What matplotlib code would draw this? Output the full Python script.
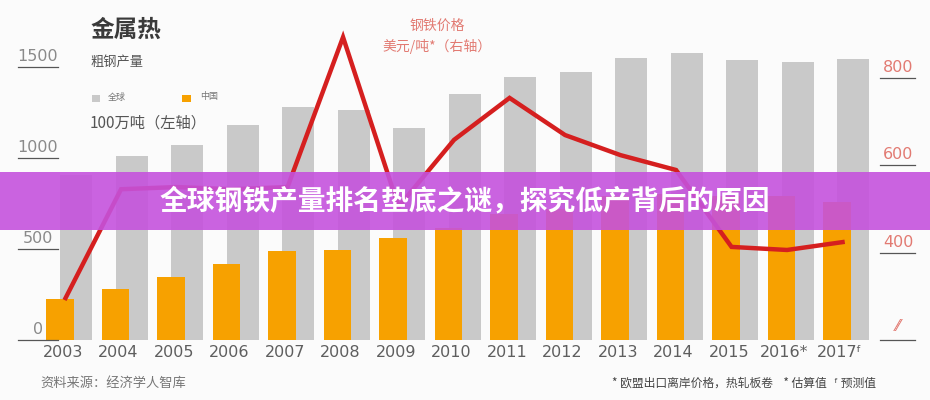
import numpy as np
import matplotlib
matplotlib.use("Agg")
import matplotlib.pyplot as plt
from matplotlib.patches import Rectangle

plt.rcParams["font.family"] = ["Noto Sans CJK SC", "DejaVu Sans"]

YEARS = ["2003", "2004", "2005", "2006", "2007", "2008", "2009", "2010",
         "2011", "2012", "2013", "2014", "2015", "2016*", "2017ᶠ"]
GLOBAL = [905, 1010, 1070, 1180, 1280, 1265, 1165, 1350, 1445, 1475, 1550, 1575, 1540, 1525, 1545]
CHINA = [225, 280, 345, 420, 490, 495, 560, 615, 690, 720, 790, 800, 790, 790, 760]
PRICE = [296, 545, 550, 545, 550, 893, 505, 658, 754, 669, 623, 589, 413, 406, 424]
LEFT_TICKS = [0, 500, 1000, 1500]
RIGHT_TICKS = [400, 600, 800]

W, H = 930, 400
GRAY = "#c9c9c9"
ORANGE = "#f7a100"
RED = "#d51f1f"
PINK = "#e27a72"


def fx(px):
    return px / W


def fy(py):
    return 1 - py / H


fig = plt.figure(figsize=(9.3, 4.0), dpi=100)
fig.patch.set_facecolor("#fbfbfb")
ax = fig.add_axes([0, 0, 1, 1])
ax.set_facecolor("none")
ax2 = ax.twinx()
ax2.set_facecolor("none")
for a in (ax, ax2):
    a.axis("off")

x = np.arange(len(YEARS))
ax.bar(x + 0.29, GLOBAL, width=0.58, color=GRAY, zorder=1)
ax.bar(x, CHINA, width=0.5, color=ORANGE, zorder=2)
ax.set_xlim(-60 / 55.5, -60 / 55.5 + W / 55.5)
ax.set_ylim(-60 / 0.182, 340 / 0.182)

ax2.plot(x + 0.1, PRICE, color=RED, lw=3.2, solid_joinstyle="miter", zorder=3)
ax2.set_ylim(200 - 60 / 0.437, 200 + 340 / 0.437)

# x labels
for xi, lab in zip(x, YEARS):
    ax.text(xi + 0.05, -67, lab, ha="center", va="center", fontsize=11.5,
            color="#5e5e5e", family=["DejaVu Sans"])

# left ticks with underline
for v in LEFT_TICKS:
    ax.text((38 - 60) / 55.5, v + 55, str(v), ha="center", va="center",
            fontsize=11.5, color="#8a8a8a", family=["DejaVu Sans"])
    ax.plot([(18 - 60) / 55.5, (58 - 60) / 55.5], [v, v], color="#555555", lw=0.9)

# right ticks
for v in RIGHT_TICKS:
    ax2.text((898 - 60) / 55.5, v + 24, str(v), ha="center", va="center",
             fontsize=11.5, color=PINK, family=["DejaVu Sans"])
    ax2.plot([(880 - 60) / 55.5, (915 - 60) / 55.5], [v, v], color="#555555", lw=0.9)
ax2.text((898 - 60) / 55.5, 232, "⁄⁄", ha="center", va="center", fontsize=11,
         color=PINK, family=["DejaVu Sans"])
ax2.plot([(880 - 60) / 55.5, (915 - 60) / 55.5], [200, 200], color="#555555", lw=0.9)

# header texts
fig.text(fx(90), fy(30), "金属热", fontsize=17, fontweight="bold", color="#3a3a3a", va="center")
fig.text(fx(90), fy(62), "粗钢产量", fontsize=9.5, color="#555555", va="center")
fig.add_artist(Rectangle((fx(92), fy(102)), fx(8), 7 / H, transform=fig.transFigure,
                         color=GRAY, lw=0))
fig.text(fx(108), fy(97), "全球", fontsize=6.5, color="#777777", va="center")
fig.add_artist(Rectangle((fx(182), fy(102)), fx(9), 7 / H, transform=fig.transFigure,
                         color=ORANGE, lw=0))
fig.text(fx(200), fy(97), "中国", fontsize=6.5, color="#777777", va="center")
fig.text(fx(90), fy(123), "100万吨（左轴）", fontsize=11, color="#555555", va="center")

fig.text(fx(437), fy(26), "钢铁价格", fontsize=10, color=PINK, ha="center", va="center")
fig.text(fx(437), fy(46), "美元/吨*（右轴）", fontsize=10, color=PINK, ha="center", va="center")

# footnotes
fig.text(fx(40), fy(383), "资料来源：经济学人智库", fontsize=9.5, color="#777777", va="center")
fig.text(fx(612), fy(383), "* 欧盟出口离岸价格，热轧板卷    * 估算值   ᶠ 预测值",
         fontsize=8.5, color="#444444", va="center")

# banner overlay
fig.add_artist(Rectangle((0, fy(230)), 1, 58 / H, transform=fig.transFigure,
                         color="#c552dd", alpha=0.9, lw=0, zorder=10))
fig.text(0.5, fy(201), "全球钢铁产量排名垫底之谜，探究低产背后的原因", fontsize=20,
         fontweight="bold", color="white", ha="center", va="center", zorder=11)

fig.savefig("out.png", dpi=100, facecolor=fig.get_facecolor())
